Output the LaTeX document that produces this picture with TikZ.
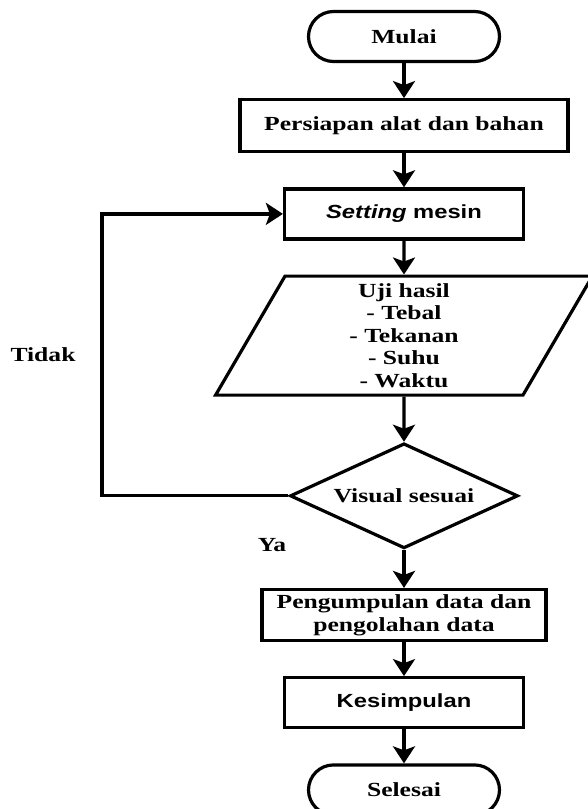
\documentclass[tikz,border=0pt]{standalone}
\usepackage{fontspec}
\usepackage{tikz}
\usetikzlibrary{shapes.geometric}
\usetikzlibrary{arrows.meta}
\usetikzlibrary{positioning}
\newfontfamily\flowserif{Liberation Serif}[FakeStretch=1.28]
\newfontfamily\flowsans{Liberation Sans}[FakeStretch=1.25]
\newcommand{\sansbold}{\flowsans\bfseries\fontsize{19}{22}\selectfont}
\tikzset{x=1pt, y=-1pt, every text node part/.style={align=center, font={\flowserif\bfseries\fontsize{20}{22.5}\selectfont}}}
\tikzstyle{terminal} = [rectangle, draw, line width=3.2pt, rounded corners=25pt, minimum width=191pt, minimum height=50pt]

\begin{document}
\begin{tikzpicture}[
    block/.style={rectangle, draw, line width=3.2pt, minimum height=50pt, inner sep=2pt},
    io/.style={trapezium, draw, line width=3.2pt, trapezium left angle=73, trapezium right angle=107, trapezium stretches=true, minimum width=377pt, minimum height=119pt, inner sep=2pt},
    decision/.style={diamond, draw, line width=3.2pt, aspect=2.15, minimum width=228pt, minimum height=105pt, inner sep=0pt},
    line/.style={draw, line width=3.2pt, -{Stealth[length=17pt, width=22pt, inset=4pt]}},
    note/.style={inner sep=0pt}
  ]
  \useasboundingbox (0,0) rectangle (587,809);

  % Define start
  \node[terminal] (mulai) at (404,36.5) {Mulai};

  % Define process blocks
  \node[block, minimum width=328pt, minimum height=52pt, below=35pt of mulai] (persiapan) {Persiapan alat dan bahan};
  \node[block, minimum width=239pt, below=34pt of persiapan] (setting) {\sansbold\textit{Setting} mesin};

  % Define test and decision
  \node[io, below=34pt of setting] (uji) {Uji hasil\\- Tebal\\- Tekanan\\- Suhu\\- Waktu};
  \node[decision, below=45pt of uji] (visual) {Visual sesuai};

  % Define closing blocks
  \node[block, minimum width=284pt, minimum height=51pt, below=38pt of visual] (kumpul) {Pengumpulan data dan\\pengolahan data};
  \node[block, minimum width=239pt, below=34pt of kumpul] (simpul) {\sansbold Kesimpulan};
  \node[terminal, below=34pt of simpul] (selesai) {Selesai};

  % Define branch labels
  \node[note] (tidak) at (43,355) {Tidak};
  \node[note] (ya) at (272,545) {Ya};
  \coordinate (loopx) at (102,0);

  % Draw lines
  \draw[line] (mulai) -- (persiapan);
  \draw[line] (persiapan) -- (setting);
  \draw[line] (setting) -- (uji);
  \draw[line] (uji) -- (visual);
  \draw[line] (visual) -- (kumpul);
  \draw[line] (kumpul) -- (simpul);
  \draw[line] (simpul) -- (selesai);
  \draw[line] (visual) -- (visual -| loopx) |- (setting);

\end{tikzpicture}
\end{document}
